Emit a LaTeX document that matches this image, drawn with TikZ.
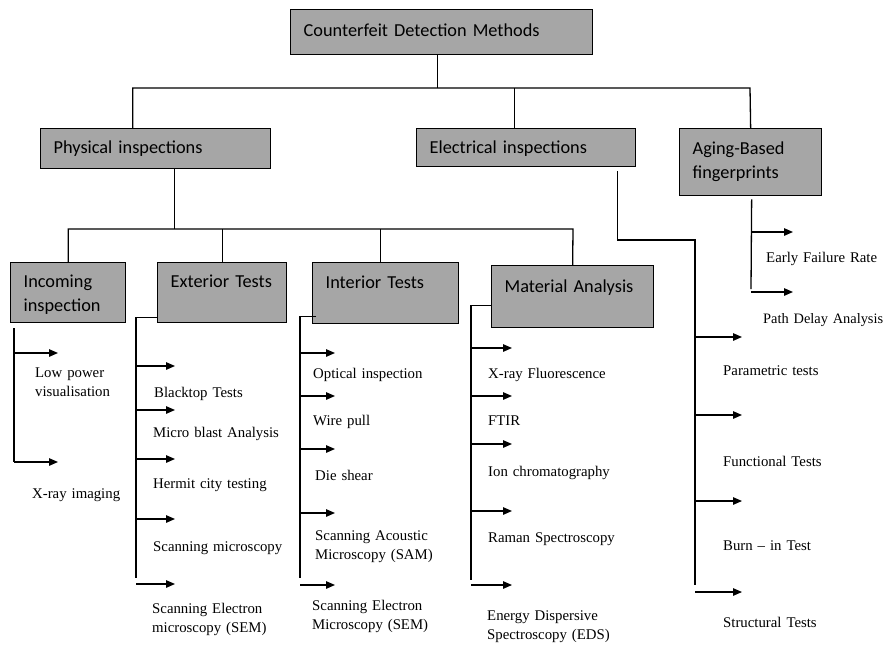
\documentclass[tikz,border=0pt]{standalone}
\usepackage{fontspec}
\setmainfont{Liberation Serif}
\newfontfamily\boxfont{Carlito}
\usetikzlibrary{arrows.meta,calc}
\definecolor{boxgray}{RGB}{166,166,166}
\begin{document}
\begin{tikzpicture}[x=1pt,y=-1pt,
  catbox/.style={draw=black,fill=boxgray,line width=1.3pt,anchor=north west,
    inner xsep=13pt,inner ysep=0pt,align=left,
    font=\boxfont\fontsize{18.3}{23.5}\selectfont},
  tree/.style={line width=1.3pt,line join=miter},
  arr/.style={line width=1.3pt,-{Triangle[length=9pt,width=7.5pt]}},
  lbl/.style={anchor=base west,inner sep=0pt,text width=170pt,align=left,
    font=\fontsize{14.8}{19.5}\selectfont}]
\useasboundingbox (0,0) rectangle (885,645);

% ---- category boxes ----
\node[catbox,text width=276pt,text height=27pt,text depth=18pt] (top) at (290,9) {Counterfeit Detection Methods};
\node[catbox,text width=204pt,text height=25pt,text depth=15pt] (phys) at (40,128) {Physical inspections};
\node[catbox,text width=193pt,text height=25pt,text depth=13pt] (elec) at (416,128) {Electrical inspections};
\node[catbox,text width=116pt,text height=26pt,text depth=41pt] (aging) at (679,128) {Aging-Based\\fingerprints};
\node[catbox,text width=89pt,text height=25pt,text depth=35pt] (inc) at (10,262) {Incoming\\inspection};
\node[catbox,text width=103pt,text height=25pt,text depth=35pt] (ext) at (157,262) {Exterior Tests};
\node[catbox,text width=120pt,text height=26pt,text depth=35pt] (int) at (312,262) {Interior Tests};
\node[catbox,text width=136pt,text height=27pt,text depth=35pt] (mat) at (491,265) {Material Analysis};

% ---- upper tree ----
\coordinate (busA) at (132,88);
\coordinate (busB) at (750,88);
\draw[tree] ([xshift=-4pt]top.south) -- ([xshift=-4pt]top.south |- busA);
\draw[tree] ([xshift=-23pt]phys.north) |- (busB) -- (aging.north);
\draw[tree] ([xshift=-12pt]elec.north) -- ([xshift=-12pt]elec.north |- busA);

% ---- physical inspections subtree ----
\coordinate (busC) at (68,229);
\coordinate (busD) at (573,229);
\draw[tree] ([xshift=19pt]phys.south) -- ([xshift=19pt]phys.south |- busC);
\draw[tree] (inc.north) |- (busD) -- (mat.north);
\draw[tree] (ext.north) -- (ext.north |- busC);
\draw[tree] ([xshift=-5pt]int.north) -- ([xshift=-5pt]int.north |- busC);

% ---- spines ----
\coordinate (incEnd) at (14,462);
\draw[tree] ([xshift=4pt,yshift=-5pt]inc.south west) -- (incEnd);
\coordinate (extEnd) at (136,578);
\draw[tree] ([yshift=6pt]ext.south west) -| (extEnd);
\coordinate (intEnd) at (300,578);
\draw[tree] ([xshift=4pt,yshift=8pt]int.south west) -| (intEnd);
\coordinate (matEnd) at (471,580);
\draw[tree] ([yshift=23pt]mat.south west) -| (matEnd);
\coordinate (elecTurn) at (695,240);
\coordinate (elecEnd) at (695,585);
\draw[tree] ([xshift=-19pt,yshift=-4pt]elec.south east) |- (elecTurn) -- (elecEnd);
\coordinate (agEnd) at (751,289);
\draw[tree] ([xshift=1pt,yshift=-3pt]aging.south) -- (agEnd);

% ---- arrows ----
\foreach \n/\y in {n1/353,n2/462}
  {\coordinate (\n) at (58,\y); \draw[arr] (incEnd |- \n) -- (\n);}
\foreach \n/\y in {x1/366,x2/410,x3/459,x4/519,x5/584}
  {\coordinate (\n) at (175,\y); \draw[arr] (extEnd |- \n) -- (\n);}
\foreach \n/\y in {i1/353,i2/396,i3/449,i4/513,i5/585}
  {\coordinate (\n) at (335,\y); \draw[arr] (intEnd |- \n) -- (\n);}
\foreach \n/\y in {m1/348,m2/396,m3/444,m4/511,m5/585}
  {\coordinate (\n) at (512,\y); \draw[arr] (matEnd |- \n) -- (\n);}
\foreach \n/\y in {e1/337,e2/415,e3/501,e4/592}
  {\coordinate (\n) at (742,\y); \draw[arr] (elecEnd |- \n) -- (\n);}
\foreach \n/\y in {g1/232,g2/292}
  {\coordinate (\n) at (793,\y); \draw[arr] (agEnd |- \n) -- (\n);}

% ---- labels ----
\node[lbl] (lowp) at (35,377) {Low power\\visualisation};
\node[lbl] (xray) at (32,498) {X-ray imaging};

\node[lbl] (black) at (154,397) {Blacktop Tests};
\node[lbl] (micro) at (153,437) {Micro blast Analysis};
\node[lbl] (herm) at (153,488) {Hermit city testing};
\node[lbl] (scanm) at (153,551) {Scanning microscopy};
\node[lbl] (semx) at (152,613) {Scanning Electron\\microscopy (SEM)};

\node[lbl] (optic) at (313,378) {Optical inspection};
\node[lbl] (wire) at (313,425) {Wire pull};
\node[lbl] (die) at (315,480) {Die shear};
\node[lbl] (sam) at (315,540) {Scanning Acoustic\\Microscopy (SAM)};
\node[lbl] (semi) at (312,610) {Scanning Electron\\Microscopy (SEM)};

\node[lbl] (xrf) at (488,378) {X-ray Fluorescence};
\node[lbl] (ftir) at (488,425) {FTIR};
\node[lbl] (ion) at (488,476) {Ion chromatography};
\node[lbl] (raman) at (488,542) {Raman Spectroscopy};
\node[lbl] (eds) at (487,620) {Energy Dispersive\\Spectroscopy (EDS)};

\node[lbl] (param) at (723,375) {Parametric tests};
\node[lbl] (func) at (723,466) {Functional Tests};
\node[lbl] (burn) at (723,550) {Burn – in Test};
\node[lbl] (struct) at (723,627) {Structural Tests};

\node[lbl] (early) at (766,262) {Early Failure Rate};
\node[lbl,font=\fontsize{14.4}{19.5}\selectfont] (pathd) at (763,323) {Path Delay Analysis};
\end{tikzpicture}
\end{document}
